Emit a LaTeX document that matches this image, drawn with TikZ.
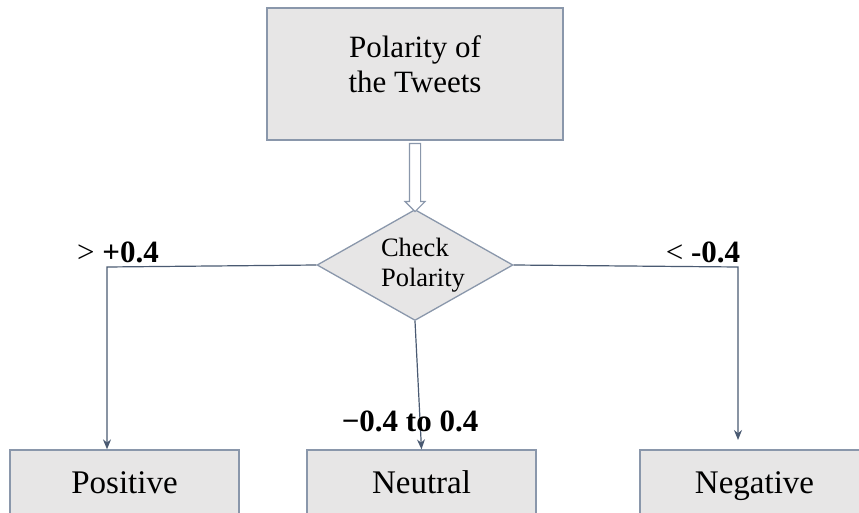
\documentclass[tikz,border=0pt]{standalone}
\usepackage{fontspec}
\setmainfont{Liberation Serif}
\usetikzlibrary{shapes.geometric,shapes.arrows,arrows.meta,positioning}
\definecolor{boxfill}{HTML}{E7E6E6}
\definecolor{boxline}{HTML}{8A97AB}
\definecolor{linkcol}{HTML}{4A5A72}

\begin{document}
\begin{tikzpicture}[x=1pt,y=1pt,
		box/.style={draw=boxline,fill=boxfill,line width=1.3pt,minimum width=229pt,minimum height=66pt,inner sep=0pt,text height=24pt,text depth=4pt,font=\fontsize{33}{38}\selectfont},
		decision/.style={diamond,draw=boxline,fill=boxfill,line width=1.3pt,minimum width=196pt,minimum height=111pt,aspect=1.77,inner sep=0pt},
		hollowarrow/.style={single arrow,draw=boxline,fill=white,line width=1.1pt,minimum height=68pt,inner sep=5pt,single arrow head extend=4.5pt,shape border rotate=270},
		conn/.style={draw=linkcol,line width=1.2pt,-{Stealth[length=10pt,width=8pt]}},
		lbl/.style={anchor=base,font=\bfseries\fontsize{31}{35}\selectfont}]
	\useasboundingbox (0,0) rectangle (859,512);
	% boxes
	\node[box,minimum width=296pt,minimum height=132pt,text height=,text depth=,
		label={[yshift=9.5pt,align=center,font=\fontsize{31}{35}\selectfont]center:{Polarity of\\the Tweets}}] (tweets) at (415,438) {};
	\node[decision,label={[xshift=8pt,align=left,font=\fontsize{26.5}{30}\selectfont]center:{Check\\Polarity}}] (check) at (415,247) {};
	\node[box] (pos) at (124.5,29) {Positive};
	\node[box] (neu) at (421.5,29) {Neutral};
	\node[box] (neg) at (754.5,29) {Negative};
	% hollow arrow between top box and decision
	\path (tweets.south) -- (check.north) node[midway,hollowarrow] (down) {};
	% turning points
	\coordinate (lturn) at (107,245);
	\coordinate (rturn) at (738,245);
	\coordinate (rend) at (738,72);
	\draw[conn] (check.west) -- (lturn) -- (lturn |- pos.north);
	\draw[conn] (check.south) -- (neu.north);
	\draw[conn] (check.east) -- (rturn) -- (rend);
	% thresholds
	\node[lbl] (gtlbl) at (118,249) {{\mdseries >} +0.4};
	\node[lbl] (ltlbl) at (703,250) {{\mdseries <} -0.4};
	\node[lbl] (midlbl) at (410,81) {−0.4 to 0.4};
\end{tikzpicture}
\end{document}
